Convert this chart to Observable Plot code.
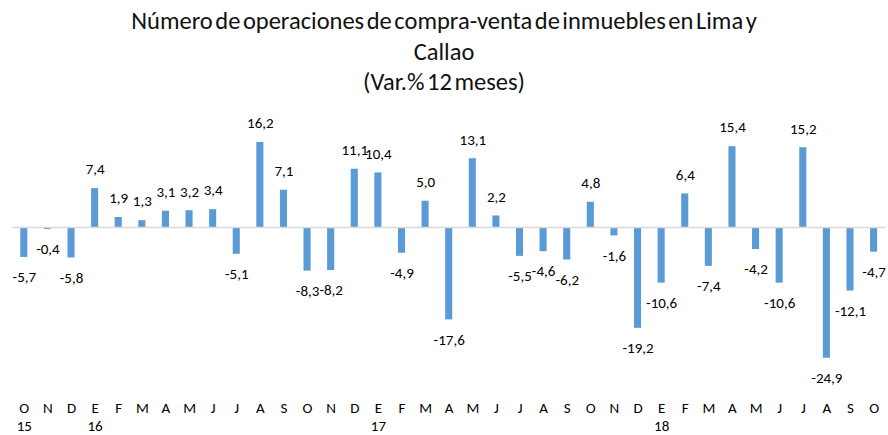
<!DOCTYPE html>
<html><head><meta charset="utf-8">
<script src="https://cdn.jsdelivr.net/npm/d3@7"></script>
<script src="https://cdn.jsdelivr.net/npm/@observablehq/plot@0.6"></script>
<style>
body{margin:0;background:#fff;font-family:Carlito,Lato,sans-serif;}
#title{width:888px;text-align:center;font-size:24.5px;line-height:30.5px;color:#111;padding-top:6px;height:93px;box-sizing:border-box;word-spacing:-3px;}
</style></head><body>
<div id="title">Número de operaciones de compra-venta de inmuebles en Lima y<br>Callao<br>(Var.% 12 meses)</div>
<div id="chart"></div>
<script>
const months = ["O","N","D","E","F","M","A","M","J","J","A","S","O","N","D","E","F","M","A","M","J","J","A","S","O","N","D","E","F","M","A","M","J","J","A","S","O"];
const years = ["15","","","16","","","","","","","","","","","","17","","","","","","","","","","","","18","","","","","","","","",""];
const values = [-5.7,-0.4,-5.8,7.4,1.9,1.3,3.1,3.2,3.4,-5.1,16.2,7.1,-8.3,-8.2,11.1,10.4,-4.9,5.0,-17.6,13.1,2.2,-5.5,-4.6,-6.2,4.8,-1.6,-19.2,-10.6,6.4,-7.4,15.4,-4.2,-10.6,15.2,-24.9,-12.1,-4.7];
const data = values.map((v,i)=>({i, v, m: months[i], y: years[i], label: v.toFixed(1).replace(".",",")}));
const idx = data.map(d=>d.i);
const chart = Plot.plot({
  width: 888, height: 342,
  marginLeft: 12, marginRight: 2.6, marginTop: 39.5, marginBottom: 71.5,
  style: {fontFamily: "Carlito, Lato, sans-serif", fontSize: "15px", color: "#000", background: "#fff"},
  x: {type: "band", domain: idx, paddingInner: 0.7, paddingOuter: 0.35, round: false, axis: null, label: null},
  y: {domain: [-26, 18], axis: null},
  marks: [
    Plot.barY(data, {x: "i", y: "v", fill: "#5B9BD5"}),
    Plot.ruleY([0], {stroke: "#d9d9d9", strokeWidth: 1.5}),
    Plot.text(data.filter(d=>d.v>=0), {x: "i", y: "v", text: "label", dy: -19, fontSize: 15, fill: "#000"}),
    Plot.text(data.filter(d=>d.v<0), {x: "i", y: "v", text: "label", dy: 20, fontSize: 15, fill: "#000"}),
    Plot.axisX(idx, {tickFormat: i => months[i], tickSize: 0, tickPadding: 38, fontSize: 15, fill: "#000", label: null}),
    Plot.axisX(idx, {tickFormat: i => years[i], tickSize: 0, tickPadding: 56, fontSize: 15, fill: "#000", label: null})
  ]
});
document.getElementById("chart").appendChild(chart);
</script>
</body></html>
